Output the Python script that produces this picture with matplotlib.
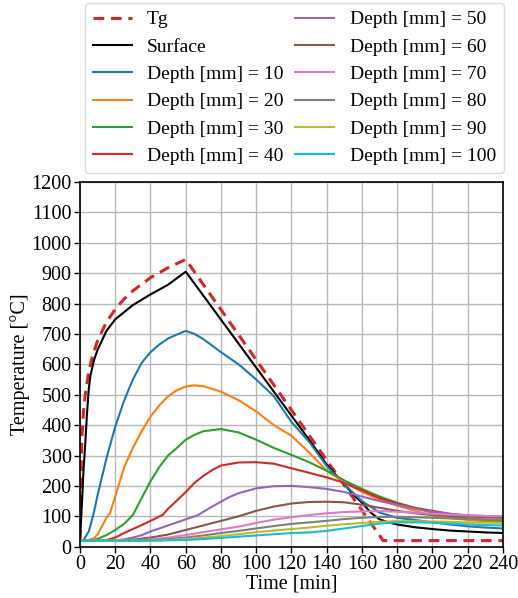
import numpy as np
import matplotlib
matplotlib.use("Agg")
import matplotlib.pyplot as plt

plt.rcParams["font.family"] = ["Liberation Serif", "DejaVu Serif"]

# =====================
# Data
# =====================
t_gas = [0, 1, 2, 3, 5, 7, 10, 15, 20, 25, 30, 40, 50, 60, 172, 240]
tg = [20, 349, 445, 502, 576, 626, 678, 739, 781, 815, 842, 885, 918, 945, 20, 20]

t_surf = [0, 1, 2, 3, 4, 5, 6, 8, 10, 15, 20, 30, 40, 50, 60, 130, 140, 150, 155,
          160, 165, 170, 175, 180, 190, 200, 210, 220, 230, 240]
surface = [20, 130, 250, 340, 440, 520, 565, 615, 648, 710, 748, 795, 830, 862, 905,
           352, 270, 205, 172, 145, 112, 90, 80, 73, 64, 58, 53, 50, 47, 45]

t_10 = [0, 2, 5, 8, 10, 15, 20, 25, 30, 35, 40, 45, 50, 55, 60, 65, 70, 80, 90,
        100, 110, 120, 130, 140, 150, 160, 170, 180, 190, 200, 210, 220, 230, 240]
d10 = [20, 22, 50, 115, 170, 290, 395, 480, 550, 605, 640, 665, 685, 698, 710,
       700, 683, 640, 600, 550, 495, 410, 345, 265, 205, 150, 112, 95, 88, 80,
       73, 67, 63, 60]

t_20 = [0, 2, 5, 8, 10, 15, 17, 20, 25, 30, 35, 40, 45, 50, 55, 60, 65, 70, 80,
        90, 100, 110, 120, 130, 140, 150, 160, 170, 180, 190, 200, 210, 220, 230, 240]
d20 = [20, 20, 22, 28, 40, 95, 110, 165, 260, 325, 380, 428, 465, 495, 515, 527,
       531, 528, 510, 482, 445, 400, 365, 310, 250, 212, 180, 155, 135, 118, 103,
       94, 88, 83, 80]

t_30 = [0, 5, 8, 10, 15, 20, 25, 30, 35, 40, 45, 50, 55, 60, 65, 70, 80, 90,
        100, 110, 120, 130, 140, 150, 160, 170, 180, 190, 200, 210, 220, 230, 240]
d30 = [20, 20, 22, 26, 38, 55, 75, 104, 160, 215, 262, 300, 325, 352, 368, 380,
       387, 376, 352, 325, 302, 278, 250, 218, 190, 165, 145, 127, 112, 100, 93,
       88, 85]

t_40 = [0, 10, 15, 20, 25, 30, 35, 40, 47, 50, 55, 60, 65, 70, 75, 80, 90, 100,
        110, 120, 130, 140, 150, 160, 170, 180, 190, 200, 210, 220, 230, 240]
d40 = [20, 20, 22, 30, 45, 58, 71, 85, 105, 125, 152, 180, 210, 233, 252, 267,
       277, 278, 273, 258, 243, 228, 210, 185, 160, 142, 128, 118, 108, 102, 97, 95]

t_50 = [0, 20, 25, 30, 35, 40, 45, 50, 55, 60, 67, 70, 75, 80, 85, 90, 100, 110,
        120, 130, 140, 150, 160, 170, 180, 190, 200, 210, 220, 230, 240]
d50 = [20, 20, 24, 30, 38, 50, 60, 70, 80, 90, 104, 115, 132, 148, 164, 176, 192,
       199, 200, 196, 190, 180, 165, 150, 138, 125, 115, 108, 103, 101, 100]

t_60 = [0, 25, 30, 40, 50, 60, 70, 80, 90, 100, 110, 120, 130, 140, 150, 160,
        170, 180, 190, 200, 210, 220, 230, 240]
d60 = [20, 20, 23, 30, 40, 55, 70, 85, 100, 118, 132, 142, 147, 148, 146, 138,
       128, 118, 110, 104, 101, 99, 98, 97]

t_far = [0, 30, 40, 50, 60, 70, 80, 90, 100, 110, 120, 130, 140, 150, 160, 170,
         180, 190, 200, 210, 220, 230, 240]
d70 = [20, 20, 24, 30, 38, 48, 57, 66, 78, 89, 97, 104, 110, 114, 116, 117, 115,
       112, 108, 105, 103, 101, 100]
d80 = [20, 20, 21, 25, 30, 37, 45, 52, 60, 68, 75, 80, 85, 91, 95, 98, 98, 97,
       95, 93, 91, 90, 89]
d90 = [20, 20, 20, 22, 25, 30, 35, 41, 48, 53, 58, 63, 69, 74, 78, 82, 84, 84,
       83, 82, 80, 79, 78]
d100 = [20, 20, 20, 21, 22, 25, 29, 33, 37, 41, 45, 47, 52, 60, 68, 76, 80, 80,
        79, 76, 73, 71, 70]

depths = [10, 20, 30, 40, 50, 60, 70, 80, 90, 100]
depth_series = [(t_10, d10), (t_20, d20), (t_30, d30), (t_40, d40), (t_50, d50),
                (t_60, d60), (t_far, d70), (t_far, d80), (t_far, d90), (t_far, d100)]

# =====================
# Plot
# =====================
fig = plt.figure(figsize=(5.18, 5.98), dpi=100)
ax = fig.add_axes([0.1544, 0.0858, 0.8166, 0.6099])

ax.plot(t_gas, tg, color="#d62728", ls=(0, (3.5, 2.2)), lw=2.2, label="Tg")
ax.plot(t_surf, surface, color="black", lw=1.5, label="Surface")
for i, (d, (tt, vv)) in enumerate(zip(depths, depth_series)):
    ax.plot(tt, vv, color=f"C{i}", lw=1.5, label=f"Depth [mm] = {d}")

ax.set_xlim(0, 240)
ax.set_ylim(0, 1200)
ax.set_xticks(np.arange(0, 241, 20))
ax.set_yticks(np.arange(0, 1201, 100))
ax.grid(True, color="#b8b8b8", lw=1.0)
ax.set_axisbelow(True)
ax.tick_params(labelsize=14.5, length=4, width=1, direction="out", pad=2)
for s in ax.spines.values():
    s.set_linewidth(1.2)
ax.set_xlabel("Time [min]", fontsize=14.5, labelpad=0)
ax.set_ylabel("Temperature [°C]", fontsize=14.5, labelpad=1)

h, l = ax.get_legend_handles_labels()
fig.legend(h, l, ncol=2, loc="upper left", bbox_to_anchor=(0.164, 0.995),
           fontsize=14, frameon=True, fancybox=True, edgecolor="#d0d0d0",
           handlelength=2.0, labelspacing=0.5, columnspacing=0.6,
           borderpad=0.4, handletextpad=0.8, borderaxespad=0)

fig.savefig("out.png", dpi=100)
